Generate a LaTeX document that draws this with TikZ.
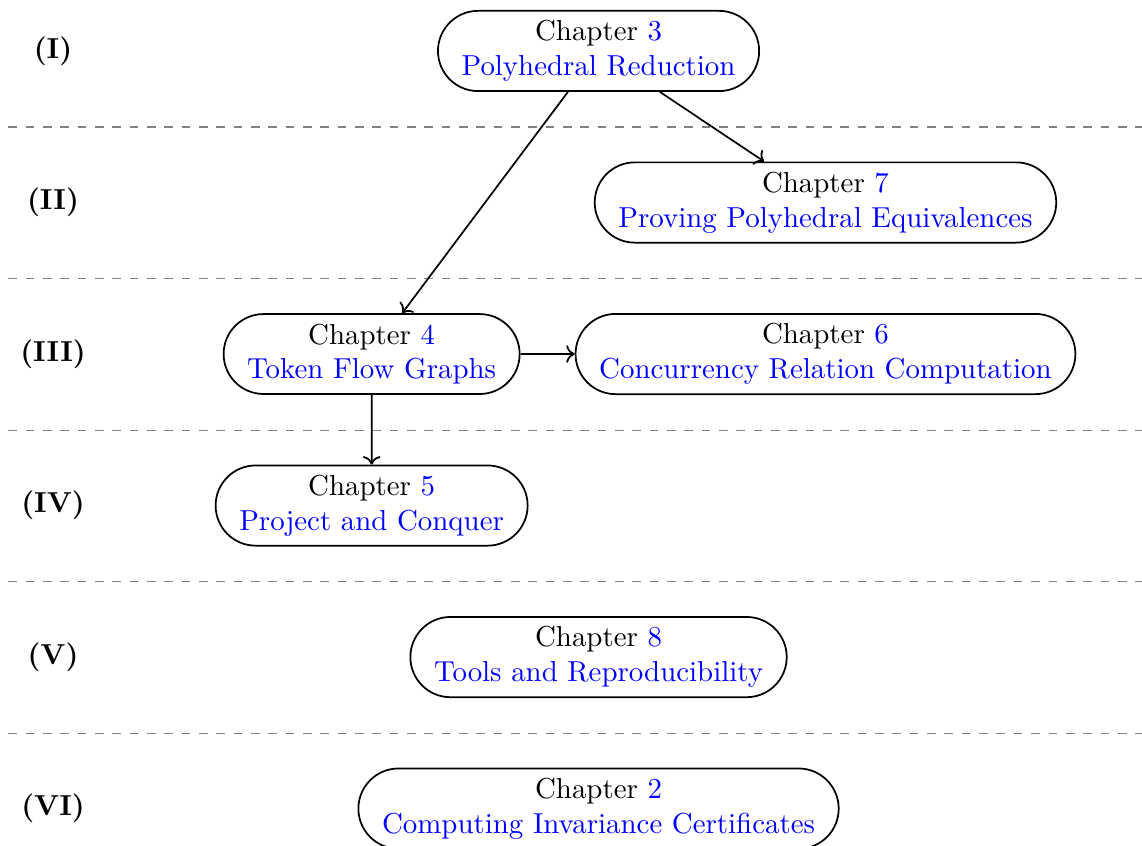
\documentclass[tikz,border=0pt]{standalone}
\usepackage{tikz}
\usepackage{xcolor}
\usetikzlibrary{positioning, shapes.misc, arrows.meta}

\begin{document}
\begin{tikzpicture}[
  chap/.style={rounded rectangle, draw, semithick, align=center},
  part/.style={font=\bfseries},
  sep/.style={dashed, gray},
  arrow/.style={->, semithick}
]
\useasboundingbox (0,0) rectangle (13.89,-10.28);

\node[chap] (ch3) at (7.28,-0.62) {Chapter \textcolor{blue}{3}\\\textcolor{blue}{Polyhedral Reduction}};
\node[chap] (ch7) at (10.04,-2.463) {Chapter \textcolor{blue}{7}\\\textcolor{blue}{Proving Polyhedral Equivalences}};
\node[chap] (ch4) at (4.52,-4.306) {Chapter \textcolor{blue}{4}\\\textcolor{blue}{Token Flow Graphs}};
\node[chap] (ch6) at (10.04,-4.306) {Chapter \textcolor{blue}{6}\\\textcolor{blue}{Concurrency Relation Computation}};
\node[chap] (ch5) at (4.52,-6.149) {Chapter \textcolor{blue}{5}\\\textcolor{blue}{Project and Conquer}};
\node[chap] (ch8) at (7.28,-7.992) {Chapter \textcolor{blue}{8}\\\textcolor{blue}{Tools and Reproducibility}};
\node[chap] (ch2) at (7.28,-9.835) {Chapter \textcolor{blue}{2}\\\textcolor{blue}{Computing Invariance Certificates}};

% parts
\node[part] (p1) at (0.645,-0.62) {(I)};
\node[part] (p2) at (0.645,-2.463) {(II)};
\node[part] (p3) at (0.645,-4.306) {(III)};
\node[part] (p4) at (0.645,-6.149) {(IV)};
\node[part] (p5) at (0.645,-7.992) {(V)};
\node[part] (p6) at (0.645,-9.835) {(VI)};

\foreach \y in {1.545,3.388,5.231,7.074,8.917}
  \draw[sep] (0.1,-\y) -- (13.89,-\y);

\draw[arrow] (ch3) -- (ch7);
\draw[arrow] (ch3) -- (ch4);
\draw[arrow] (ch4) -- (ch6);
\draw[arrow] (ch4) -- (ch5);

\end{tikzpicture}
\end{document}
